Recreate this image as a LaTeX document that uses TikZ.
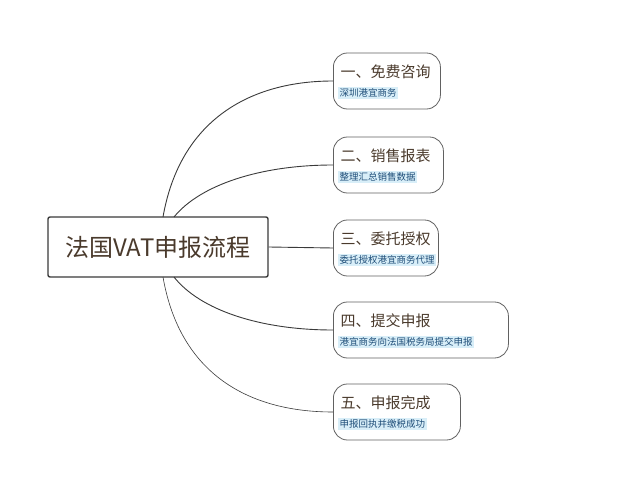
\documentclass[tikz,border=0pt]{standalone}
\usepackage{fontspec}
\newfontfamily\cjk{Noto Sans CJK SC}
\definecolor{tbrown}{HTML}{4A3A2C}
\definecolor{lblue}{HTML}{D8EEF8}
\definecolor{dblue}{HTML}{1F4E79}
\definecolor{edge}{HTML}{3A3A3A}
\begin{document}
\begin{tikzpicture}[x=1pt,y=-1pt,
  mainbox/.style={draw=edge,line width=1.4pt,rounded corners=2pt,fill=white,minimum width=220pt,minimum height=60pt,font=\cjk\fontsize{24}{28}\selectfont,text=tbrown},
  branch/.style={draw=edge!80,line width=0.8pt,rounded corners=14pt,fill=white,minimum height=56pt,anchor=west},
  btitle/.style={font=\cjk\fontsize{15}{18}\selectfont,text=tbrown,anchor=west},
  bsub/.style={font=\cjk\fontsize{9.5}{11}\selectfont,text=dblue,fill=lblue,inner sep=1.5pt,anchor=west},
  link/.style={draw=edge,line width=0.9pt}]
\useasboundingbox (0,0) rectangle (629,500);
\node[mainbox] (c) at (158,247) {法国VAT申报流程};
\node[branch,minimum width=107pt] (b1) at (333,81) {};
\node[branch,minimum width=110pt] (b2) at (333,165) {};
\node[branch,minimum width=105pt] (b3) at (333,248) {};
\node[branch,minimum width=175pt] (b4) at (333,330) {};
\node[branch,minimum width=127pt] (b5) at (333,412) {};
\foreach \i/\t/\s in {1/一、免费咨询/深圳港宜商务,2/二、销售报表/整理汇总销售数据,3/三、委托授权/委托授权港宜商务代理,4/四、提交申报/港宜商务向法国税务局提交申报,5/五、申报完成/申报回执并缴税成功}{
  \node[btitle] (t\i) at ([xshift=4pt,yshift=9pt]b\i.west) {\t};
  \node[bsub] (s\i) at ([xshift=5pt,yshift=-12pt]b\i.west) {\s};
}
\coordinate (p1) at (163,217);
\coordinate (p2) at (174,217);
\coordinate (p4) at (174,277);
\coordinate (p5) at (163,277);
\draw[link] (p1) .. controls (180,120) and (250,81) .. (b1.west);
\draw[link] (p2) .. controls (200,185) and (260,165) .. (b2.west);
\draw[link] (c.east) -- (b3.west);
\draw[link] (p4) .. controls (200,310) and (260,330) .. (b4.west);
\draw[link,line width=0.6pt] (p5) .. controls (180,375) and (250,412) .. (b5.west);
\end{tikzpicture}
\end{document}
